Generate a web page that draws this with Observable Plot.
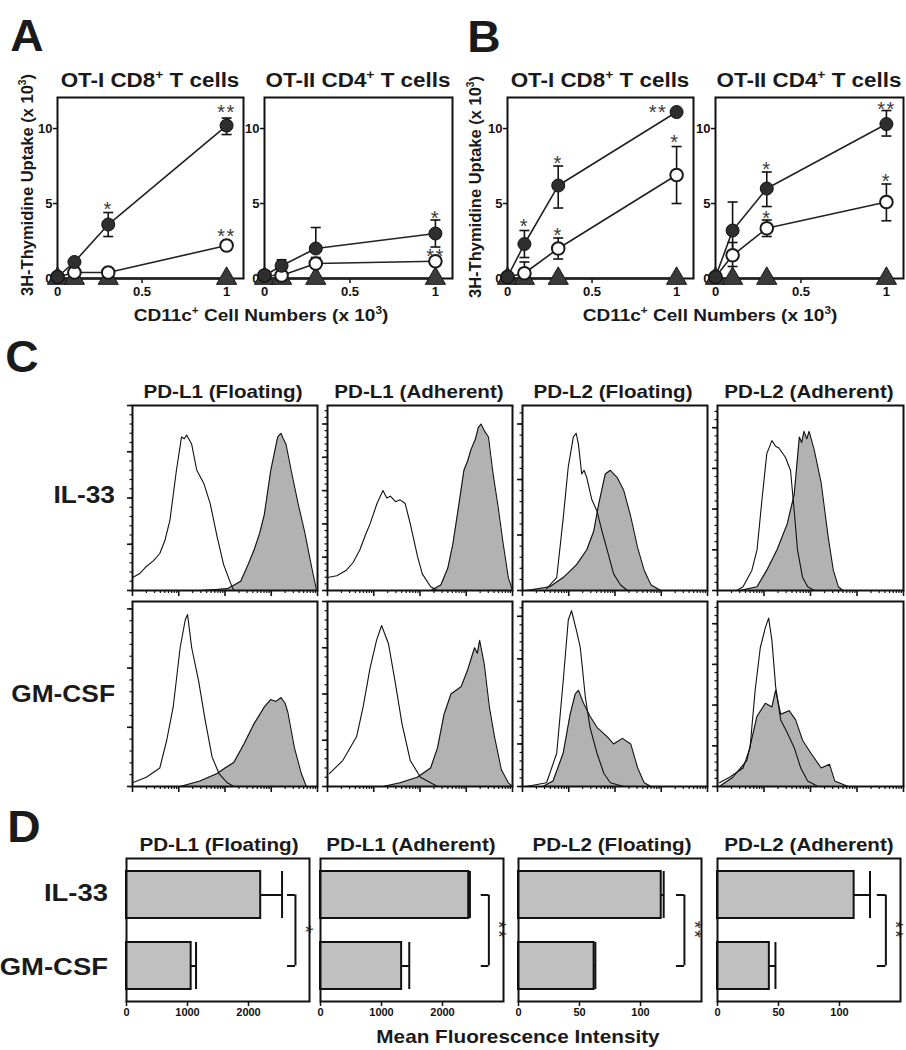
<!DOCTYPE html>
<html><head><meta charset="utf-8">
<script src="https://cdn.jsdelivr.net/npm/d3@7"></script>
<script src="https://cdn.jsdelivr.net/npm/@observablehq/plot@0.6"></script>
<style>
body{margin:0;background:#fff;}
#root{position:relative;width:906px;height:1050px;overflow:hidden;font-family:"Liberation Sans",Arial,sans-serif;color:#1a1a1a;background:#fff;}
.lab{position:absolute;white-space:nowrap;line-height:1;}
.lab sup{font-size:0.62em;line-height:0;vertical-align:0.62em;}
svg{overflow:visible;}
</style></head><body><div id="root"></div>
<script>
// ================= DATA =================
// Panels A & B: 3H-thymidine uptake (x 10^3) vs CD11c+ cell numbers (x 10^3)
const doseX = [0, 0.1, 0.3, 1];
const doseTicksX = [0, 0.5, 1];
const doseTicksY = [0, 5, 10];

// A – OT-I CD8+
const aCD8Filled   = [0.1, 1.1, 3.6, 10.2];
const aCD8FilledLo = [null, null, 2.8, 9.6];
const aCD8FilledHi = [null, null, 4.4, 10.7];
const aCD8Open     = [0.1, 0.4, 0.4, 2.2];
const aCD8OpenLo   = [null, null, null, null];
const aCD8OpenHi   = [null, null, null, null];
const aCD8Tri      = [0, 0, 0, 0];
const aCD8Stars    = [[0.3, 4.9, "*"], [1, 11.4, "**"], [1, 3.1, "**"]];
// A – OT-II CD4+
const aCD4Filled   = [0.2, 0.85, 2.0, 3.0];
const aCD4FilledLo = [null, null, null, 2.1];
const aCD4FilledHi = [null, 1.25, 3.4, 3.9];
const aCD4Open     = [0.2, 0.2, 1.0, 1.15];
const aCD4OpenLo   = [null, null, null, null];
const aCD4OpenHi   = [null, null, 1.4, null];
const aCD4Tri      = [0, 0, 0, 0];
const aCD4Stars    = [[1, 4.3, "*"], [1, 1.8, "**"]];
// B – OT-I CD8+
const bCD8Filled   = [0.1, 2.3, 6.2, 11.1];
const bCD8FilledLo = [null, 1.4, 4.7, null];
const bCD8FilledHi = [null, 3.2, 7.5, null];
const bCD8Open     = [0.1, 0.35, 2.0, 6.9];
const bCD8OpenLo   = [null, null, 1.3, 5.0];
const bCD8OpenHi   = [null, 1.1, 2.7, 8.8];
const bCD8Tri      = [0, 0, 0, 0];
const bCD8Stars    = [[0.1, 3.8, "*"], [0.3, 8.0, "*"], [0.89, 11.4, "**"], [0.3, 3.2, "*"], [0.99, 9.4, "*"]];
// B – OT-II CD4+
const bCD4Filled   = [0.1, 3.2, 6.0, 10.3];
const bCD4FilledLo = [null, 1.4, 4.8, 9.5];
const bCD4FilledHi = [null, 5.1, 7.1, 11.2];
const bCD4Open     = [0.1, 1.55, 3.35, 5.1];
const bCD4OpenLo   = [null, 0.8, 2.8, 3.85];
const bCD4OpenHi   = [null, 2.4, 3.9, 6.3];
const bCD4Tri      = [0, 0, 0, 0];
const bCD4Stars    = [[0.3, 7.6, "*"], [0.3, 4.3, "*"], [1, 11.6, "**"], [1, 6.8, "*"]];

// Panel C: histograms, x = log10 fluorescence (decades), y = % of max
const histTitles = ["PD-L1 (Floating)", "PD-L1 (Adherent)", "PD-L2 (Floating)", "PD-L2 (Adherent)"];
const histRows = ["IL-33", "GM-CSF"];
const il33L1FloatIso   = [[0,7],[0.15,9],[0.3,13],[0.45,16],[0.59,20],[0.7,27],[0.81,38],[0.95,65],[1.06,83],[1.12,82],[1.17,84],[1.28,79],[1.39,65],[1.54,58],[1.68,47],[1.83,29],[1.97,14],[2.12,4],[2.19,0]];
const il33L1FloatStain = [[1.46,0],[1.8,0.5],[2.05,1],[2.2,3],[2.34,5],[2.5,14],[2.63,22],[2.75,31],[2.85,41],[2.99,65],[3.14,83],[3.21,85],[3.26,82],[3.32,79],[3.43,65],[3.58,47],[3.72,32],[3.87,13],[3.98,0]];
const il33L1AdhIso     = [[0,7],[0.2,8],[0.41,11],[0.55,15],[0.70,22],[0.82,30],[0.92,36],[1.07,47],[1.20,54],[1.28,50],[1.36,51],[1.47,48],[1.57,49],[1.68,47],[1.79,36],[1.95,18],[2.05,9],[2.23,2],[2.38,0]];
const il33L1AdhStain   = [[2.23,0],[2.45,3],[2.60,12],[2.71,25],[2.82,43],[2.95,65],[3.03,70],[3.10,76],[3.2,82],[3.26,88],[3.32,90],[3.4,86],[3.48,83],[3.58,63],[3.69,45],[3.80,25],[3.91,7],[4.0,0]];
const il33L2FloatIso   = [[0.52,1],[0.74,7],[0.88,39],[0.99,67],[1.10,83],[1.16,85],[1.21,79],[1.28,63],[1.33,65],[1.39,61],[1.50,49],[1.61,43],[1.72,32],[1.83,22],[1.97,9],[2.12,3],[2.27,0]];
const il33L2FloatStain = [[0.08,0],[0.59,2],[0.88,7],[1.05,11],[1.17,14],[1.39,22],[1.54,32],[1.65,47],[1.79,63],[1.9,65],[1.97,63],[2.05,61],[2.19,54],[2.34,40],[2.49,23],[2.63,11],[2.78,3],[2.99,0]];
const il33L2AdhIso     = [[0.41,0],[0.55,2],[0.74,11],[0.85,22],[0.96,50],[1.06,74],[1.17,81],[1.25,78],[1.32,77],[1.46,72],[1.57,65],[1.65,43],[1.72,22],[1.83,7],[1.94,2],[2.08,0]];
const il33L2AdhStain   = [[0.48,0],[0.85,2],[1.06,11],[1.28,22],[1.5,36],[1.65,52],[1.76,83],[1.81,80],[1.86,86],[1.92,82],[1.97,86],[2.08,76],[2.23,58],[2.38,29],[2.49,11],[2.6,2],[2.7,0]];
const gmL1FloatIso     = [[0,2],[0.3,5],[0.59,10],[0.74,25],[0.88,43],[1.03,75],[1.14,90],[1.19,93],[1.28,75],[1.43,57],[1.57,36],[1.72,16],[1.87,7],[2.05,2],[2.19,0]];
const gmL1FloatStain   = [[1.03,0],[1.46,3],[1.83,7],[2.0,10],[2.19,13],[2.41,23],[2.63,34],[2.85,43],[2.99,47],[3.1,46],[3.21,48],[3.3,45],[3.36,40],[3.5,21],[3.65,7],[3.76,0]];
const gmL1AdhIso       = [[0.04,7],[0.33,14],[0.63,27],[0.77,43],[0.92,64],[1.06,79],[1.17,87],[1.32,77],[1.46,57],[1.61,34],[1.79,14],[2.01,5],[2.23,2],[2.38,0]];
const gmL1AdhStain     = [[1.2,0],[1.57,2],[1.94,5],[2.23,10],[2.38,21],[2.52,39],[2.67,50],[2.89,54],[3.03,63],[3.18,75],[3.24,72],[3.29,79],[3.39,66],[3.5,43],[3.61,27],[3.76,9],[3.91,2],[4.0,0]];
const gmL2FloatIso     = [[0.08,0],[0.52,2],[0.74,18],[0.88,57],[0.99,90],[1.06,95],[1.17,84],[1.25,75],[1.36,48],[1.46,32],[1.61,18],[1.76,7],[1.9,2],[2.19,0]];
const gmL2FloatStain   = [[0.44,0],[0.66,3],[0.88,18],[1.03,39],[1.14,50],[1.21,52],[1.32,45],[1.46,38],[1.61,32],[1.83,27],[1.97,23],[2.16,26],[2.34,23],[2.49,10],[2.63,2],[2.78,0]];
const gmL2AdhIso       = [[0.04,2],[0.26,5],[0.55,10],[0.7,21],[0.81,52],[0.92,75],[1.03,86],[1.1,91],[1.17,79],[1.25,54],[1.36,36],[1.5,29],[1.65,21],[1.79,10],[1.94,3],[2.16,0]];
const gmL2AdhStain     = [[0.04,0],[0.33,5],[0.63,14],[0.85,38],[1.03,45],[1.17,43],[1.25,52],[1.36,39],[1.54,41],[1.68,36],[1.83,25],[2.01,18],[2.23,10],[2.41,12],[2.52,3],[2.81,0]];
const histYTickStep = [[25, 18, 30, 22], [32, 25, 23, 22]];

// Panel D: mean fluorescence intensity
const barGroups  = ["IL-33", "GM-CSF"];
const barTitles  = ["PD-L1 (Floating)", "PD-L1 (Adherent)", "PD-L2 (Floating)", "PD-L2 (Adherent)"];
const mfiIL33    = [2200, 2430, 117, 112];
const mfiIL33Err = [350, 20, 2, 13];
const mfiGMCSF   = [1060, 1330, 62, 42.5];
const mfiGMCSFErr= [80, 125, 1, 5];
const mfiMax     = [3000, 3000, 150, 150];
const mfiTicks   = [[0, 1000, 2000], [0, 1000, 2000], [0, 50, 100], [0, 50, 100]];
const sigLabel   = ["*", "**", "**", "**"];
const sigBracketX    = [2770, 2760, 136, 138];
const sigBracketTipX = [2640, 2635, 129.5, 131];

// ================= LAYOUT HELPERS =================
const root = document.getElementById("root");
const FONT = "'Liberation Sans', Arial, sans-serif";
function put(node, left, top) {
  node.style.position = "absolute"; node.style.left = left + "px"; node.style.top = top + "px";
  root.appendChild(node);
}
function label(html, cx, cy, size, {rotate = 0, anchor = "middle", sx = 1.12, weight = "bold"} = {}) {
  const d = document.createElement("div");
  d.className = "lab"; d.innerHTML = html;
  d.style.fontSize = size + "px"; d.style.fontWeight = weight;
  d.style.left = cx + "px"; d.style.top = cy + "px";
  d.style.transformOrigin = "0 0";
  const tx = anchor === "middle" ? "-50%" : anchor === "end" ? "-100%" : "0";
  d.style.transform = `rotate(${rotate}deg) scaleX(${sx}) translate(${tx}, -50%)`;
  root.appendChild(d);
}
function spaceStars(svg) {
  svg.querySelectorAll("text").forEach(t => { if (/^\*+$/.test(t.textContent)) t.style.letterSpacing = "1.5px"; });
}
const capSymbol = {draw(ctx, size) { const r = Math.sqrt(size / Math.PI); ctx.moveTo(-r, 0); ctx.lineTo(r, 0); }};

// ================= PANELS A & B =================
function dosePanel(frameLeft, frameW, s) {
  const mL = 36, mR = 10, mT = 12, mB = 26, H = 181, frameTop = 97;
  const mk = (vals, lo, hi) => doseX.map((x, i) => ({x, y: vals[i], lo: lo ? lo[i] : null, hi: hi ? hi[i] : null}));
  const filled = mk(s.filled, s.filledLo, s.filledHi);
  const open = mk(s.open, s.openLo, s.openHi);
  const tri = mk(s.tri);
  const all = filled.concat(open);
  const hiPts = all.filter(d => d.hi != null), loPts = all.filter(d => d.lo != null);
  const stars = s.stars.map(([x, y, t]) => ({x, y, t}));
  const svg = Plot.plot({
    width: mL + frameW + mR, height: mT + H + mB,
    marginLeft: mL, marginRight: mR, marginTop: mT, marginBottom: mB,
    style: {fontFamily: FONT, fontWeight: "bold", color: "#111", background: "transparent", overflow: "visible"},
    x: {domain: [0, 1.1]}, y: {domain: [0, 12.07]},
    marks: [
      Plot.axisX({ticks: doseTicksX, tickFormat: d => String(d), tickSize: 5, tickPadding: 3, fontSize: 13, strokeWidth: 1.5, label: null}),
      Plot.axisY({ticks: doseTicksY, tickFormat: d => String(d), tickSize: 4, tickPadding: 1, fontSize: 13, strokeWidth: 1.5, label: null}),
      Plot.frame({stroke: "#111", strokeWidth: 2}),
      Plot.line(tri, {x: "x", y: "y", stroke: "#222", strokeWidth: 2.5}),
      Plot.line(open, {x: "x", y: "y", stroke: "#222", strokeWidth: 1.6}),
      Plot.line(filled, {x: "x", y: "y", stroke: "#222", strokeWidth: 1.6}),
      Plot.ruleX(hiPts, {x: "x", y1: "y", y2: "hi", stroke: "#111", strokeWidth: 1.6}),
      Plot.ruleX(loPts, {x: "x", y1: "lo", y2: "y", stroke: "#111", strokeWidth: 1.6}),
      Plot.dot(hiPts, {x: "x", y: "hi", symbol: capSymbol, r: 5, stroke: "#111", strokeWidth: 1.6}),
      Plot.dot(loPts, {x: "x", y: "lo", symbol: capSymbol, r: 5, stroke: "#111", strokeWidth: 1.6}),
      Plot.dot(tri, {x: "x", y: "y", symbol: "triangle", r: 7.5, fill: "#3a3a3a", stroke: "#1a1a1a", strokeWidth: 1}),
      Plot.dot(open, {x: "x", y: "y", r: 6.3, fill: "white", stroke: "#1a1a1a", strokeWidth: 2}),
      Plot.dot(filled, {x: "x", y: "y", r: 6.5, fill: "#2e2e2e", stroke: "#111", strokeWidth: 1}),
      Plot.text(stars, {x: "x", y: "y", text: "t", fontSize: 20, fontWeight: "normal", fill: "#3a3a3a", dy: 5})
    ]
  });
  spaceStars(svg);
  put(svg, frameLeft - mL, frameTop - mT);
}
dosePanel(57, 186, {filled: aCD8Filled, filledLo: aCD8FilledLo, filledHi: aCD8FilledHi, open: aCD8Open, openLo: aCD8OpenLo, openHi: aCD8OpenHi, tri: aCD8Tri, stars: aCD8Stars});
dosePanel(264, 188, {filled: aCD4Filled, filledLo: aCD4FilledLo, filledHi: aCD4FilledHi, open: aCD4Open, openLo: aCD4OpenLo, openHi: aCD4OpenHi, tri: aCD4Tri, stars: aCD4Stars});
dosePanel(507, 186, {filled: bCD8Filled, filledLo: bCD8FilledLo, filledHi: bCD8FilledHi, open: bCD8Open, openLo: bCD8OpenLo, openHi: bCD8OpenHi, tri: bCD8Tri, stars: bCD8Stars});
dosePanel(715, 188, {filled: bCD4Filled, filledLo: bCD4FilledLo, filledHi: bCD4FilledHi, open: bCD4Open, openLo: bCD4OpenLo, openHi: bCD4OpenHi, tri: bCD4Tri, stars: bCD4Stars});

label("A", 27, 36, 44, {sx: 1.05});
label("B", 484, 37, 44, {sx: 1.05});
label("OT-I CD8<sup>+</sup> T cells", 150, 80, 20);
label("OT-II CD4<sup>+</sup> T cells", 358, 80, 20);
label("OT-I CD8<sup>+</sup> T cells", 600, 80, 20);
label("OT-II CD4<sup>+</sup> T cells", 809, 80, 20);
label("3H-Thymidine Uptake (x 10<sup>3</sup>)", 27, 185, 16.5, {rotate: -90, sx: 1});
label("3H-Thymidine Uptake (x 10<sup>3</sup>)", 475, 187, 16.5, {rotate: -90, sx: 1});
label("CD11c<sup>+</sup> Cell Numbers (x 10<sup>3</sup>)", 261, 315, 17);
label("CD11c<sup>+</sup> Cell Numbers (x 10<sup>3</sup>)", 710, 315, 17);

// ================= PANEL C =================
const histMinorX = [];
for (const dec of [0, 1, 2, 3]) for (const k of [2, 3, 4, 5, 6, 7, 8, 9]) histMinorX.push(dec + Math.log10(k));
function histPanel(frameLeft, frameTop, frameW, iso, stain, yStep) {
  const mL = 8, mR = 2, mT = 2, mB = 9, H = 185;
  const majorY = [], minorY = [];
  for (let v = 0; v <= 100.01; v += yStep) majorY.push(v);
  for (let v = 0; v <= 100.01; v += yStep / 5) minorY.push(v);
  const svg = Plot.plot({
    width: mL + frameW + mR, height: mT + H + mB,
    marginLeft: mL, marginRight: mR, marginTop: mT, marginBottom: mB,
    style: {fontFamily: FONT, color: "#111", background: "transparent", overflow: "visible"},
    x: {domain: [0, 4]}, y: {domain: [0, 100]},
    marks: [
      Plot.areaY(stain, {x: d => d[0], y: d => d[1], fill: "#b2b2b2"}),
      Plot.lineY(stain, {x: d => d[0], y: d => d[1], stroke: "#111", strokeWidth: 1.1}),
      Plot.lineY(iso, {x: d => d[0], y: d => d[1], stroke: "#111", strokeWidth: 1.1}),
      Plot.axisX({ticks: histMinorX, tickSize: 3, tickFormat: () => "", label: null, strokeWidth: 1.2}),
      Plot.axisX({ticks: [0, 1, 2, 3, 4], tickSize: 6, tickFormat: () => "", label: null, strokeWidth: 1.6}),
      Plot.axisY({ticks: minorY, tickSize: 2.5, tickFormat: () => "", label: null, strokeWidth: 1.2}),
      Plot.axisY({ticks: majorY, tickSize: 5, tickFormat: () => "", label: null, strokeWidth: 1.6}),
      Plot.frame({stroke: "#111", strokeWidth: 2})
    ]
  });
  put(svg, frameLeft - mL, frameTop - mT);
}
const histFrameLeft = [132, 327, 522, 717];
const histFrameW = [185, 185, 185, 186];
const histFrameTop = [405, 601];
const histData = [
  [[il33L1FloatIso, il33L1FloatStain], [il33L1AdhIso, il33L1AdhStain], [il33L2FloatIso, il33L2FloatStain], [il33L2AdhIso, il33L2AdhStain]],
  [[gmL1FloatIso, gmL1FloatStain], [gmL1AdhIso, gmL1AdhStain], [gmL2FloatIso, gmL2FloatStain], [gmL2AdhIso, gmL2AdhStain]]
];
histData.forEach((row, r) => row.forEach(([iso, stain], c) =>
  histPanel(histFrameLeft[c], histFrameTop[r], histFrameW[c], iso, stain, histYTickStep[r][c])));

label("C", 22, 357, 44, {sx: 1.05});
const histTitleX = [223, 419, 613, 809];
histTitles.forEach((t, c) => label(t, histTitleX[c], 392, 18.4));
label(histRows[0], 115, 496, 23.5, {anchor: "end"});
label(histRows[1], 115, 694.5, 23.5, {anchor: "end"});

// ================= PANEL D =================
function barPanel(i, frameLeft, frameW) {
  const mL = 2, mR = 2, mT = 2, mB = 26, H = 143, frameTop = 858;
  const pIn = 0.34, pOut = 0.17;
  const bw = H / (barGroups.length - pIn + 2 * pOut) * (1 - pIn);
  const data = barGroups.map((g, j) => ({
    group: g,
    mean: j === 0 ? mfiIL33[i] : mfiGMCSF[i],
    err: j === 0 ? mfiIL33Err[i] : mfiGMCSFErr[i]
  }));
  const svg = Plot.plot({
    width: mL + frameW + mR, height: mT + H + mB,
    marginLeft: mL, marginRight: mR, marginTop: mT, marginBottom: mB,
    style: {fontFamily: FONT, fontWeight: "bold", color: "#111", background: "transparent", overflow: "visible"},
    x: {domain: [0, mfiMax[i]]},
    y: {domain: barGroups, paddingInner: pIn, paddingOuter: pOut, axis: null},
    marks: [
      Plot.barX(data, {x: "mean", y: "group", fill: "#c0c0c0", stroke: "#111", strokeWidth: 2}),
      Plot.ruleY(data, {y: "group", x1: "mean", x2: d => d.mean + d.err, stroke: "#111", strokeWidth: 2}),
      Plot.tickX(data, {x: d => d.mean + d.err, y: "group", stroke: "#111", strokeWidth: 2}),
      Plot.ruleY(barGroups, {y: d => d, x1: () => sigBracketTipX[i], x2: () => sigBracketX[i], stroke: "#111", strokeWidth: 2}),
      Plot.ruleX([sigBracketX[i]], {x: d => d, y1: () => barGroups[0], y2: () => barGroups[1], insetTop: bw / 2, insetBottom: bw / 2, stroke: "#111", strokeWidth: 2}),
      Plot.text([sigLabel[i]], {x: () => sigBracketX[i], text: d => d, rotate: 90, dx: 10, dy: 0, fontSize: 20, fontWeight: "normal", fill: "#333"}),
      Plot.axisX({ticks: mfiTicks[i], tickFormat: d => String(d), tickSize: 5, tickPadding: 2, fontSize: 11, strokeWidth: 1.5, label: null}),
      Plot.frame({stroke: "#111", strokeWidth: 2})
    ]
  });
  spaceStars(svg);
  put(svg, frameLeft - mL, frameTop - mT);
}
const barFrameLeft = [126, 320, 518, 717];
barFrameLeft.forEach((l, i) => barPanel(i, l, 183));

label("D", 24, 827, 44, {sx: 1.05});
const barTitleX = [219, 411, 612, 809];
barTitles.forEach((t, c) => label(t, barTitleX[c], 845, 18.4));
label(barGroups[0], 108, 893, 24.5, {anchor: "end"});
label(barGroups[1], 108, 967, 24.5, {anchor: "end"});
label("Mean Fluorescence Intensity", 518, 1037, 18.5);
</script></body></html>
